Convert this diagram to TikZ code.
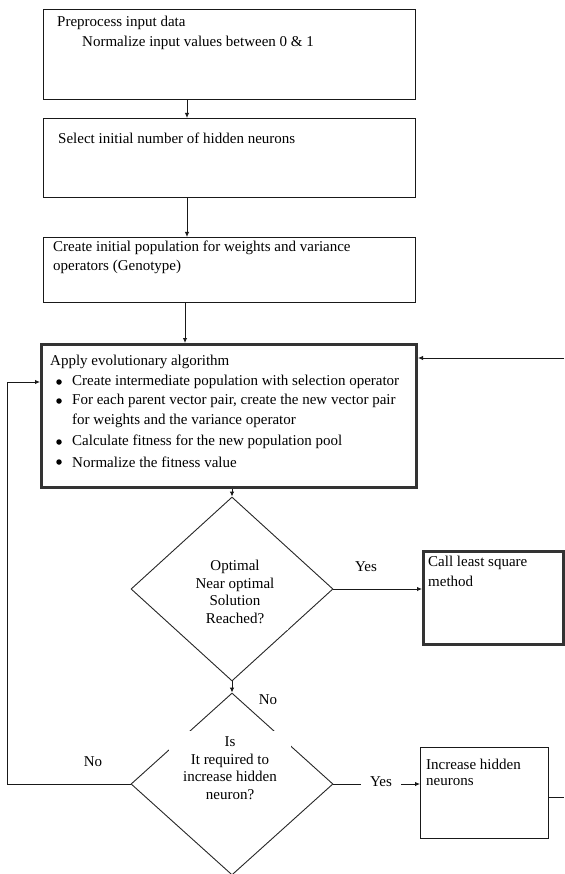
\documentclass[tikz,border=0pt]{standalone}
\usepackage{fontspec}
\setmainfont{Liberation Serif}
\usetikzlibrary{arrows.meta,shapes.geometric,calc}
\begin{document}
\begin{tikzpicture}[x=1pt,y=-1pt,
  every node/.style={font=\fontsize{15}{19.5}\selectfont},
  box/.style={draw=black!90, line width=0.9pt, rectangle, inner sep=0pt, anchor=north west},
  thickbox/.style={draw=black!80, line width=3pt, rectangle, inner sep=0pt, anchor=north west},
  txt/.style={inner sep=0pt, anchor=west},
  bul/.style={circle, fill=black, inner sep=0pt, minimum size=5.5pt},
  dec/.style={draw=black!85, line width=0.9pt, diamond, inner sep=0pt, minimum width=202pt, minimum height=184pt},
  dtxt/.style={fill=white, align=center, inner xsep=14pt, inner ysep=6pt, font=\fontsize{15}{17.5}\selectfont},
  arr/.style={draw=black!90, line width=0.9pt, -{Latex[length=5pt,width=4.5pt]}},
  lin/.style={draw=black!90, line width=0.9pt},
  lbl/.style={inner sep=1pt}
]
\useasboundingbox (0,0) rectangle (564,874);

% boxes
\node[box, minimum width=372pt, minimum height=90pt] (b1) at (43,9) {};
\node[box, minimum width=372pt, minimum height=79pt] (b2) at (43,118) {};
\node[box, minimum width=372pt, minimum height=65pt] (b3) at (43,237) {};
\node[thickbox, minimum width=375pt, minimum height=143pt] (b4) at (40,343) {};
\node[thickbox, minimum width=140pt, minimum height=93pt] (b5) at (422,550) {};
\node[box, minimum width=128pt, minimum height=91pt] (b6) at (420,747) {};

% decisions
\node[dec] (d1) at (232,589) {};
\node[dec, minimum height=182pt] (d2) at (232,784) {};

% texts
\node[txt] (t1a) at (57,23) {Preprocess input data};
\node[txt] (t1b) at (82,43) {Normalize input values between 0 \& 1};
\node[txt] (t2) at (58,138) {Select initial number of hidden neurons};
\node[txt] (t3a) at (53,248) {Create initial population for weights and variance};
\node[txt] (t3b) at (53,267) {operators (Genotype)};

\node[txt] (t4) at (50,362) {Apply evolutionary algorithm};
\node[bul] (u1) at (59,382) {};
\node[bul] (u2) at (59,401) {};
\node[bul] (u3) at (59,442) {};
\node[bul] (u4) at (59,462) {};
\node[txt] (t4a) at (72,382) {Create intermediate population with selection operator};
\node[txt] (t4b) at (72,401) {For each parent vector pair, create the new vector pair};
\node[txt] (t4c) at (72,421) {for weights and the variance operator};
\node[txt] (t4d) at (72,442) {Calculate fitness for the new population pool};
\node[txt] (t4e) at (72,462) {Normalize the fitness value};

\node[txt] (t5a) at (428,563) {Call least square};
\node[txt] (t5b) at (428,581) {method};
\node[txt] (t6a) at (426,764) {Increase hidden};
\node[txt] (t6b) at (426,782) {neurons};

\node[dtxt] (q1) at (235,592) {Optimal\\Near optimal\\Solution\\Reached?};
\node[dtxt] (q2) at (230,768) {Is\\It required to\\increase hidden\\neuron?};

% connectors
\coordinate (cx) at (187,0);
\coordinate (cx2) at (185,0);
\draw[arr] (b1.south -| cx) -- (b2.north -| cx);
\draw[arr] (b2.south -| cx) -- (b3.north -| cx);
\draw[arr] (b3.south -| cx2) -- (b4.north -| cx2);
\draw[arr] (b4.south -| d1.north) -- (d1.north);
\draw[arr] (d1.south) -- (d2.north);
\draw[arr] (d1.east) -- (b5.west |- d1.east);
\coordinate (rin) at (564,358);
\draw[arr] (rin) -- (rin -| b4.east);
\coordinate (lx) at (7,382);
\draw[arr] (d2.west) -| (lx) -- (lx -| b4.west);
\draw[arr] (d2.east) -- (b6.west |- d2.east);
\coordinate (rout) at (564,797);
\draw[lin] (b6.east |- rout) -- (rout);

% labels
\node[lbl] (y1) at (366,567) {Yes};
\node[lbl] (n1) at (268,700) {No};
\node[lbl] (n2) at (93,762) {No};
\node[lbl, fill=white, inner xsep=9pt] (y2) at (381,782) {Yes};
\end{tikzpicture}
\end{document}
